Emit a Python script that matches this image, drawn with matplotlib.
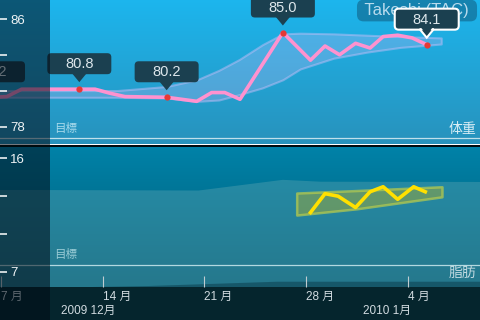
import numpy as np
import matplotlib
matplotlib.use("Agg")
import matplotlib.pyplot as plt
import matplotlib.transforms as mtransforms
from matplotlib.patches import Rectangle, FancyBboxPatch, Polygon

plt.rcParams['font.family'] = ['Liberation Sans', 'Noto Sans CJK JP', 'DejaVu Sans']

# days counted from Dec 7
weight_days = [-0.55, 0.4, 1.42, 5.39, 6.47, 7.5, 8.53, 11.4, 13.47, 14.5, 15.4, 16.45,
               19.4, 21.3, 22.3, 23.3, 24.4, 25.4, 26.3, 27.3, 28.3, 29.3]
weight_vals = [80.2, 80.25, 80.8, 80.8, 80.8, 80.5, 80.25, 80.2, 79.9, 80.55, 80.55, 80.05,
               85.0, 82.95, 84.0, 83.35, 84.2, 83.85, 84.7, 84.8, 84.6, 84.1]
marked = [0, 3, 7, 12, 21]   # points with a value bubble
selected = 21

band_days = [-0.6, 8, 11.4, 13.5, 15, 16.4, 18, 19.4, 20.6, 22.9, 25.2, 27.5, 30.3]
band_hi = [80.7, 80.7, 81.0, 81.5, 82.2, 83.0, 84.1, 84.9, 84.95, 84.9, 84.8, 84.7, 84.6]
band_lo = [80.2, 80.2, 80.15, 79.9, 80.0, 80.4, 80.9, 81.5, 82.3, 83.1, 83.55, 83.9, 84.15]

fat_days = [21.3, 22.3, 23.2, 24.4, 25.4, 26.3, 27.3, 28.4, 29.2]
fat_vals = [11.7, 13.2, 13.0, 12.1, 13.35, 13.75, 12.75, 13.75, 13.35]
fat_band_days = [20.35, 24.5, 30.35]
fat_band_hi = [13.25, 13.45, 13.75]
fat_band_lo = [11.5, 12.0, 12.95]

zone_days = [-0.6, 13.6, 19.4, 22, 33.5]
zone_vals = [13.5, 13.45, 14.3, 14.15, 14.13]
floor_days = [-0.6, 3.4, 10.2, 19, 33.5]
floor_vals = [5.7, 5.72, 5.86, 6.2, 6.2]

weight_goal = 77.19
fat_goal = 7.53
weight_ticks = [78, 80.667, 83.333, 86]
weight_ticklabels = ['78', '', '', '86']
fat_ticks = [7, 10, 13, 16]
fat_ticklabels = ['7', '', '', '16']
day_ticks = [0, 7, 14, 21, 28]
day_labels = ['7 月', '14 月', '21 月', '28 月', '4 月']
months = [(4.1, '2009 12月'), (24.9, '2010 1月')]
user = 'Takeshi (TAC)'

W, H = 480, 320
BOX = '#1b4050'
fig = plt.figure(figsize=(4.8, 3.2), dpi=100)
fig.patch.set_facecolor('#05252d')

ax_w = fig.add_axes([0, 1 - 144.5 / H, 1, 144.5 / H])
ax_f = fig.add_axes([0, 1 - 287 / H, 1, 140 / H])


def gradient(ax, top, bottom):
    t = np.linspace(0, 1, 256)[:, None, None]
    img = np.array(top)[None, None, :] / 255 * (1 - t) + np.array(bottom)[None, None, :] / 255 * t
    ax.imshow(img, extent=[0, 1, 0, 1], transform=ax.transAxes, aspect='auto', zorder=0)


def callout(ax, d, v, label, edge=None):
    tr = mtransforms.IdentityTransform() + mtransforms.ScaledTranslation(d, v, ax.transData)
    box = FancyBboxPatch((-32, 15), 64, 21, boxstyle='round,pad=0,rounding_size=4',
                         transform=tr, fc=BOX, ec=edge or 'none', lw=1.5, zorder=6)
    ax.add_patch(box)
    ax.add_patch(Polygon([(-7, 15.5), (7, 15.5), (0, 7)], closed=True, transform=tr,
                         fc=BOX, ec=edge or 'none', lw=1.5, zorder=6.2))
    if edge:
        ax.add_patch(Polygon([(-6, 17.5), (6, 17.5), (0, 9.5)], closed=True, transform=tr,
                             fc=BOX, ec='none', zorder=6.3))
    ax.text(0, 25, label, transform=tr, ha='center', va='center', fontsize=10.5,
            color='#dde7ec', zorder=7)


# weight panel
gradient(ax_w, (28, 182, 238), (40, 146, 188))
ax_w.fill_between(band_days, band_lo, band_hi, facecolor=(0.78, 0.72, 0.95, 0.28),
                  edgecolor=(0.8, 0.75, 0.98, 0.45), lw=1.5, zorder=2)
ax_w.axhline(weight_goal, color=(0.75, 0.88, 0.92), lw=0.9, zorder=2)
ax_w.plot(weight_days, weight_vals, color='#ff92cf', lw=2.6, zorder=4)
ax_w.plot([weight_days[i] for i in marked], [weight_vals[i] for i in marked], 'o',
          color='#e53935', ms=4.5, mec='none', zorder=5)
ax_w.text(417 / W, 0.927, ' ' + user + ' ', transform=ax_w.transAxes, ha='center', va='center',
          fontsize=12, color=(0.72, 0.86, 0.93), zorder=5,
          bbox=dict(boxstyle='round,pad=0.2,rounding_size=0.4', fc=(0.05, 0.28, 0.4, 0.45), ec='none'))
for i in marked:
    callout(ax_w, weight_days[i], weight_vals[i], f'{weight_vals[i]:.1f}',
            edge='white' if i == selected else None)
ax_w.text(54 / W, 0.107, '目標', transform=ax_w.transAxes, va='center', fontsize=8.3,
          color=(0.65, 0.85, 0.92), zorder=3)
ax_w.text(476 / W, 0.107, '体重', transform=ax_w.transAxes, ha='right', va='center',
          fontsize=10, color=(0.85, 0.93, 0.96), zorder=3)

# fat panel
gradient(ax_f, (0, 130, 168), (0, 90, 115))
ax_f.fill_between(zone_days, 5.0, zone_vals, color=(0.37, 0.65, 0.7), alpha=0.4, lw=0, zorder=1)
ax_f.fill_between(floor_days, 5.0, floor_vals, color=(0.03, 0.22, 0.28), alpha=0.5, lw=0, zorder=1.2)
ax_f.axhline(fat_goal, color=(0.7, 0.85, 0.88), lw=0.9, zorder=2)
ax_f.fill_between(fat_band_days, fat_band_lo, fat_band_hi, facecolor=(0.62, 0.66, 0.22, 0.5),
                  edgecolor=(0.72, 0.8, 0.3, 0.7), lw=1.8, zorder=3)
ax_f.plot(fat_days, fat_vals, color='#ffe000', lw=2.6, zorder=4)
ax_f.text(54 / W, 0.229, '目標', transform=ax_f.transAxes, va='center', fontsize=8.3,
          color=(0.6, 0.8, 0.84), zorder=3)
ax_f.text(476 / W, 0.1, '脂肪', transform=ax_f.transAxes, ha='right', va='center',
          fontsize=10, color=(0.75, 0.85, 0.88), zorder=3)
for d, txt in months:
    ax_f.annotate(txt, xy=(d, 0), xycoords=ax_f.get_xaxis_transform(), xytext=(0, -24),
                  textcoords='offset pixels', ha='left', va='center', fontsize=8.5,
                  color=(0.82, 0.86, 0.88))

for ax in (ax_w, ax_f):
    for s in ax.spines.values():
        s.set_visible(False)
    ax.add_patch(Rectangle((0, 0), 50 / W, 1, transform=ax.transAxes, fc=(0, 0.04, 0.08),
                           alpha=0.55, lw=0, zorder=8))
    ax.tick_params(axis='y', direction='in', length=5, width=1.1, color='white', pad=-7.2,
                   labelcolor='#f0f4f6', labelsize=9.5)
    ax.yaxis.set_zorder(10)
    ax.set_xlim(-0.0688, 32.966)

ax_w.set_yticks(weight_ticks, weight_ticklabels, ha='left')
ax_w.set_ylim(76.70, 87.41)
ax_w.tick_params(axis='x', bottom=False, labelbottom=False)

ax_f.set_yticks(fat_ticks, fat_ticklabels, ha='left')
ax_f.set_ylim(5.78, 16.91)
ax_f.set_xticks(day_ticks, day_labels, ha='left')
ax_f.tick_params(axis='x', direction='in', length=7.9, width=0.8, color=(0.75, 0.8, 0.82),
                 pad=2.5, labelcolor=(0.82, 0.86, 0.88), labelsize=8.5)

# separator and dark strip under the date axis
fig.add_artist(Rectangle((0, 1 - 147 / H), 1, 2.5 / H, transform=fig.transFigure,
                         fc='#000a0e', lw=0, zorder=1))
fig.add_artist(Rectangle((0, 0), 50 / W, 33 / H, transform=fig.transFigure,
                         fc=(0, 0.04, 0.08), alpha=0.55, lw=0, zorder=5))

fig.savefig('out.png', dpi=100, facecolor=fig.get_facecolor())
